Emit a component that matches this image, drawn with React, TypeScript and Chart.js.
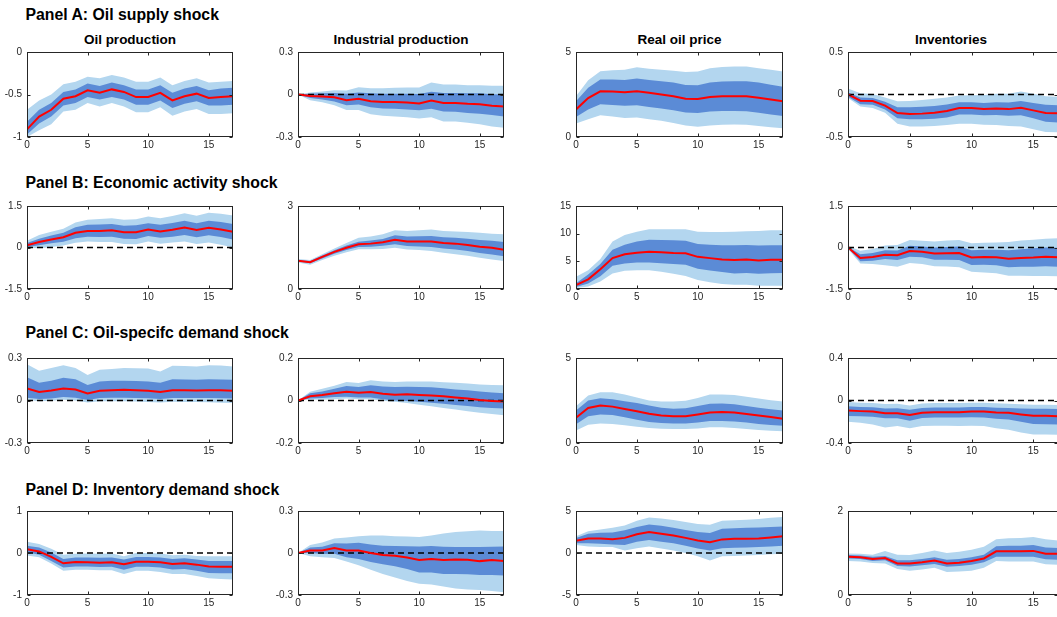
import React, { useEffect, useRef } from "react";
import { Chart, registerables } from "chart.js";
Chart.register(...registerables);

// ---------- data ----------
const horizons = [0, 1, 2, 3, 4, 5, 6, 7, 8, 9, 10, 11, 12, 13, 14, 15, 16, 17];
const xTickValues = [0, 5, 10, 15];
const variableTitles = ["Oil production", "Industrial production", "Real oil price", "Inventories"];
const panelHeaders = [
  "Panel A: Oil supply shock",
  "Panel B: Economic activity shock",
  "Panel C: Oil-specifc demand shock",
  "Panel D: Inventory demand shock",
];

// Panel A: oil supply shock
const aOilMed = [-0.91, -0.76, -0.68, -0.55, -0.52, -0.45, -0.48, -0.44, -0.47, -0.53, -0.53, -0.48, -0.57, -0.52, -0.49, -0.54, -0.53, -0.52];
const aOilInHi = [-0.82, -0.68, -0.6, -0.47, -0.44, -0.37, -0.4, -0.36, -0.39, -0.44, -0.44, -0.39, -0.48, -0.43, -0.4, -0.45, -0.43, -0.42];
const aOilInLo = [-0.97, -0.84, -0.76, -0.63, -0.6, -0.53, -0.56, -0.53, -0.56, -0.62, -0.62, -0.57, -0.66, -0.61, -0.58, -0.63, -0.63, -0.62];
const aOilOutHi = [-0.68, -0.57, -0.5, -0.38, -0.35, -0.29, -0.31, -0.27, -0.3, -0.35, -0.35, -0.3, -0.39, -0.34, -0.31, -0.36, -0.35, -0.34];
const aOilOutLo = [-1.0, -0.92, -0.85, -0.7, -0.68, -0.6, -0.64, -0.6, -0.64, -0.71, -0.71, -0.65, -0.75, -0.7, -0.67, -0.73, -0.73, -0.72];

const aIpMed = [0, -0.01, -0.014, -0.02, -0.04, -0.03, -0.048, -0.053, -0.053, -0.057, -0.064, -0.043, -0.06, -0.06, -0.066, -0.069, -0.08, -0.085];
const aIpInHi = [0, 0.005, 0.008, 0.01, 0.005, 0.015, 0.008, 0.005, 0.006, 0.005, 0.003, 0.02, 0.01, 0.01, 0.008, 0.008, 0.002, 0];
const aIpInLo = [0, -0.025, -0.035, -0.05, -0.075, -0.07, -0.09, -0.098, -0.1, -0.105, -0.112, -0.1, -0.12, -0.122, -0.13, -0.135, -0.145, -0.155];
const aIpOutHi = [0, 0.015, 0.022, 0.03, 0.028, 0.052, 0.045, 0.045, 0.048, 0.05, 0.05, 0.085, 0.07, 0.07, 0.065, 0.066, 0.062, 0.062];
const aIpOutLo = [0, -0.04, -0.055, -0.075, -0.11, -0.11, -0.14, -0.15, -0.155, -0.16, -0.17, -0.16, -0.19, -0.19, -0.2, -0.21, -0.225, -0.235];

const aPriceMed = [1.62, 2.29, 2.69, 2.67, 2.63, 2.69, 2.6, 2.5, 2.4, 2.25, 2.23, 2.35, 2.39, 2.39, 2.39, 2.31, 2.21, 2.1];
const aPriceInHi = [2.1, 2.9, 3.38, 3.38, 3.36, 3.44, 3.36, 3.28, 3.2, 3.06, 3.05, 3.2, 3.26, 3.28, 3.28, 3.2, 3.08, 2.96];
const aPriceInLo = [1.18, 1.62, 1.92, 1.88, 1.84, 1.87, 1.77, 1.67, 1.57, 1.44, 1.41, 1.5, 1.53, 1.53, 1.52, 1.43, 1.33, 1.24];
const aPriceOutHi = [2.39, 3.34, 3.87, 3.93, 3.95, 4.1, 4.02, 3.95, 3.9, 3.82, 3.86, 4.05, 4.12, 4.15, 4.15, 4.05, 3.95, 3.86];
const aPriceOutLo = [0.8, 1.05, 1.28, 1.2, 1.12, 1.15, 1.05, 0.95, 0.83, 0.67, 0.61, 0.68, 0.72, 0.73, 0.72, 0.65, 0.58, 0.52];

const aInvMed = [0, -0.073, -0.076, -0.13, -0.218, -0.229, -0.225, -0.214, -0.195, -0.16, -0.16, -0.17, -0.164, -0.172, -0.156, -0.187, -0.218, -0.22];
const aInvInHi = [0.025, -0.035, -0.04, -0.085, -0.15, -0.15, -0.145, -0.135, -0.118, -0.09, -0.09, -0.1, -0.09, -0.095, -0.075, -0.1, -0.12, -0.125];
const aInvInLo = [-0.025, -0.115, -0.12, -0.175, -0.28, -0.29, -0.29, -0.285, -0.27, -0.235, -0.235, -0.245, -0.24, -0.25, -0.245, -0.28, -0.32, -0.33];
const aInvOutHi = [0.07, 0.015, 0.005, -0.035, -0.08, -0.075, -0.065, -0.05, -0.035, -0.012, -0.01, -0.005, 0.01, 0.01, 0.035, 0.01, -0.02, -0.025];
const aInvOutLo = [-0.04, -0.14, -0.16, -0.215, -0.345, -0.375, -0.375, -0.37, -0.36, -0.345, -0.345, -0.355, -0.36, -0.37, -0.375, -0.41, -0.44, -0.445];

// Panel B: economic activity shock
const bOilMed = [0.08, 0.2, 0.29, 0.37, 0.53, 0.6, 0.6, 0.62, 0.55, 0.55, 0.65, 0.58, 0.64, 0.72, 0.63, 0.71, 0.65, 0.57];
const bOilInHi = [0.16, 0.32, 0.43, 0.53, 0.73, 0.82, 0.83, 0.85, 0.79, 0.8, 0.88, 0.82, 0.89, 0.97, 0.88, 0.97, 0.92, 0.85];
const bOilInLo = [0.02, 0.08, 0.15, 0.21, 0.33, 0.39, 0.38, 0.39, 0.32, 0.31, 0.42, 0.35, 0.39, 0.45, 0.37, 0.44, 0.38, 0.29];
const bOilOutHi = [0.24, 0.45, 0.57, 0.68, 0.9, 1.0, 1.03, 1.06, 1.0, 1.02, 1.12, 1.06, 1.14, 1.24, 1.15, 1.26, 1.22, 1.16];
const bOilOutLo = [0.0, -0.03, 0.02, 0.07, 0.17, 0.22, 0.2, 0.2, 0.13, 0.12, 0.22, 0.14, 0.18, 0.22, 0.13, 0.18, 0.1, 0.0];

const bIpMed = [1.02, 0.97, 1.16, 1.34, 1.49, 1.62, 1.64, 1.69, 1.78, 1.72, 1.72, 1.72, 1.66, 1.64, 1.59, 1.53, 1.49, 1.42];
const bIpInHi = [1.05, 1.01, 1.21, 1.4, 1.57, 1.71, 1.75, 1.81, 1.94, 1.9, 1.91, 1.92, 1.87, 1.85, 1.82, 1.77, 1.74, 1.7];
const bIpInLo = [0.99, 0.93, 1.1, 1.27, 1.41, 1.52, 1.53, 1.56, 1.62, 1.55, 1.54, 1.52, 1.46, 1.43, 1.37, 1.3, 1.25, 1.18];
const bIpOutHi = [1.08, 1.05, 1.26, 1.46, 1.66, 1.85, 1.9, 1.98, 2.12, 2.1, 2.12, 2.15, 2.1, 2.08, 2.06, 2.03, 2.0, 1.98];
const bIpOutLo = [0.96, 0.88, 1.05, 1.2, 1.33, 1.44, 1.44, 1.45, 1.49, 1.43, 1.41, 1.37, 1.31, 1.26, 1.2, 1.13, 1.07, 1.01];

const bPriceMed = [0.7, 1.74, 3.55, 5.58, 6.28, 6.57, 6.74, 6.63, 6.51, 6.45, 5.81, 5.58, 5.35, 5.23, 5.35, 5.17, 5.29, 5.29];
const bPriceInHi = [1.05, 2.6, 4.5, 7.1, 8.0, 8.6, 8.9, 8.85, 8.8, 8.7, 8.14, 8.0, 7.9, 7.9, 7.95, 7.85, 7.9, 7.9];
const bPriceInLo = [0.35, 1.0, 2.3, 4.2, 4.6, 4.8, 4.8, 4.65, 4.5, 4.36, 3.66, 3.35, 3.05, 2.8, 2.9, 2.75, 2.85, 2.9];
const bPriceOutHi = [2.2, 3.4, 5.4, 8.6, 9.77, 10.35, 10.8, 10.8, 10.8, 10.8, 10.35, 10.3, 10.3, 10.35, 10.45, 10.47, 10.6, 10.64];
const bPriceOutLo = [0.17, 0.47, 1.34, 2.8, 3.3, 3.37, 3.37, 3.1, 2.75, 2.33, 1.63, 1.2, 0.9, 0.76, 0.76, 0.58, 0.6, 0.58];

const bInvMed = [0, -0.38, -0.34, -0.26, -0.28, -0.13, -0.15, -0.22, -0.21, -0.2, -0.36, -0.34, -0.35, -0.41, -0.38, -0.36, -0.33, -0.35];
const bInvInHi = [0.02, -0.24, -0.2, -0.1, -0.11, 0.06, 0.04, 0.0, 0.02, 0.04, -0.1, -0.08, -0.08, -0.1, -0.06, -0.03, 0.0, -0.01];
const bInvInLo = [-0.02, -0.5, -0.48, -0.42, -0.45, -0.33, -0.35, -0.44, -0.44, -0.45, -0.63, -0.62, -0.64, -0.71, -0.7, -0.7, -0.68, -0.7];
const bInvOutHi = [0.05, -0.12, -0.05, 0.07, 0.09, 0.27, 0.24, 0.22, 0.25, 0.27, 0.15, 0.17, 0.18, 0.2, 0.25, 0.28, 0.32, 0.33];
const bInvOutLo = [-0.05, -0.58, -0.6, -0.64, -0.7, -0.56, -0.6, -0.68, -0.69, -0.71, -0.88, -0.9, -0.93, -1.02, -1.02, -1.03, -1.03, -1.04];

// Panel C: oil-specific demand shock
const cOilMed = [0.085, 0.06, 0.071, 0.085, 0.078, 0.05, 0.069, 0.073, 0.075, 0.073, 0.069, 0.06, 0.073, 0.073, 0.071, 0.073, 0.073, 0.069];
const cOilInHi = [0.165, 0.126, 0.14, 0.16, 0.15, 0.11, 0.135, 0.14, 0.14, 0.138, 0.135, 0.125, 0.15, 0.148, 0.146, 0.15, 0.148, 0.146];
const cOilInLo = [0.02, 0.01, 0.015, 0.025, 0.02, 0.004, 0.018, 0.02, 0.02, 0.018, 0.016, 0.01, 0.018, 0.018, 0.017, 0.018, 0.016, 0.014];
const cOilOutHi = [0.256, 0.21, 0.23, 0.249, 0.23, 0.18, 0.217, 0.222, 0.229, 0.228, 0.226, 0.205, 0.245, 0.243, 0.24, 0.249, 0.247, 0.24];
const cOilOutLo = [0.005, -0.005, -0.002, 0.005, 0.0, -0.014, -0.006, -0.005, -0.005, -0.007, -0.01, -0.014, -0.008, -0.01, -0.011, -0.012, -0.015, -0.018];

const cIpMed = [0, 0.02, 0.026, 0.034, 0.041, 0.037, 0.04, 0.032, 0.027, 0.029, 0.026, 0.024, 0.02, 0.014, 0.009, 0.002, -0.002, -0.005];
const cIpInHi = [0, 0.034, 0.042, 0.055, 0.068, 0.064, 0.072, 0.066, 0.063, 0.065, 0.064, 0.062, 0.058, 0.052, 0.048, 0.042, 0.038, 0.034];
const cIpInLo = [0, 0.01, 0.012, 0.016, 0.018, 0.014, 0.014, 0.006, 0.0, -0.002, -0.006, -0.01, -0.015, -0.021, -0.026, -0.032, -0.035, -0.038];
const cIpOutHi = [0, 0.041, 0.055, 0.07, 0.087, 0.082, 0.095, 0.09, 0.087, 0.09, 0.09, 0.09, 0.086, 0.084, 0.08, 0.075, 0.073, 0.072];
const cIpOutLo = [0, 0.005, 0.004, 0.006, 0.01, 0.006, 0.006, -0.001, -0.006, -0.012, -0.02, -0.027, -0.035, -0.042, -0.05, -0.058, -0.064, -0.069];

const cPriceMed = [1.49, 2.06, 2.21, 2.14, 2.0, 1.87, 1.72, 1.62, 1.58, 1.58, 1.68, 1.79, 1.83, 1.79, 1.7, 1.62, 1.53, 1.43];
const cPriceInHi = [1.91, 2.5, 2.63, 2.58, 2.46, 2.35, 2.2, 2.08, 2.02, 2.05, 2.17, 2.31, 2.33, 2.28, 2.18, 2.08, 1.99, 1.91];
const cPriceInLo = [1.11, 1.58, 1.68, 1.64, 1.52, 1.37, 1.24, 1.18, 1.15, 1.14, 1.2, 1.3, 1.3, 1.26, 1.2, 1.12, 1.06, 1.01];
const cPriceOutHi = [2.16, 2.79, 2.98, 2.98, 2.85, 2.67, 2.5, 2.44, 2.44, 2.48, 2.65, 2.86, 2.86, 2.82, 2.72, 2.62, 2.52, 2.44];
const cPriceOutLo = [0.73, 1.07, 1.15, 1.12, 1.04, 0.95, 0.88, 0.84, 0.82, 0.82, 0.86, 0.92, 0.92, 0.88, 0.82, 0.77, 0.72, 0.69];

const cInvMed = [-0.095, -0.1, -0.104, -0.119, -0.119, -0.137, -0.116, -0.11, -0.11, -0.11, -0.104, -0.104, -0.113, -0.116, -0.131, -0.144, -0.144, -0.148];
const cInvInHi = [-0.055, -0.06, -0.064, -0.075, -0.074, -0.088, -0.07, -0.066, -0.066, -0.066, -0.062, -0.062, -0.068, -0.07, -0.075, -0.078, -0.078, -0.08];
const cInvInLo = [-0.145, -0.148, -0.152, -0.168, -0.168, -0.19, -0.165, -0.16, -0.16, -0.16, -0.158, -0.16, -0.172, -0.178, -0.2, -0.222, -0.224, -0.226];
const cInvOutHi = [-0.015, -0.02, -0.024, -0.034, -0.03, -0.046, -0.028, -0.024, -0.024, -0.024, -0.022, -0.022, -0.026, -0.03, -0.036, -0.04, -0.04, -0.042];
const cInvOutLo = [-0.2, -0.21, -0.225, -0.255, -0.24, -0.26, -0.24, -0.238, -0.238, -0.24, -0.238, -0.24, -0.26, -0.275, -0.3, -0.32, -0.32, -0.322];

// Panel D: inventory demand shock
const dOilMed = [0.092, 0.038, -0.092, -0.246, -0.215, -0.223, -0.23, -0.223, -0.27, -0.208, -0.208, -0.223, -0.26, -0.246, -0.277, -0.323, -0.33, -0.33];
const dOilInHi = [0.17, 0.13, 0.01, -0.14, -0.11, -0.11, -0.115, -0.11, -0.155, -0.095, -0.095, -0.105, -0.14, -0.125, -0.155, -0.19, -0.19, -0.19];
const dOilInLo = [0.015, -0.04, -0.19, -0.346, -0.32, -0.323, -0.335, -0.33, -0.4, -0.325, -0.325, -0.345, -0.39, -0.38, -0.42, -0.475, -0.48, -0.48];
const dOilOutHi = [0.27, 0.215, 0.1, -0.04, -0.015, -0.01, -0.015, -0.01, -0.077, 0.0, 0.0, -0.01, -0.055, -0.04, -0.07, -0.075, -0.077, -0.077];
const dOilOutLo = [-0.06, -0.1, -0.25, -0.42, -0.4, -0.4, -0.41, -0.41, -0.5, -0.42, -0.42, -0.45, -0.5, -0.5, -0.55, -0.6, -0.62, -0.63];

const dIpMed = [0, 0.018, 0.018, 0.035, 0.018, 0.018, 0, -0.014, -0.02, -0.032, -0.05, -0.042, -0.05, -0.046, -0.048, -0.058, -0.05, -0.058];
const dIpInHi = [0, 0.04, 0.045, 0.07, 0.068, 0.074, 0.06, 0.052, 0.05, 0.048, 0.046, 0.05, 0.045, 0.042, 0.043, 0.042, 0.045, 0.046];
const dIpInLo = [0, 0.0, -0.008, -0.005, -0.03, -0.042, -0.065, -0.08, -0.095, -0.115, -0.14, -0.14, -0.15, -0.15, -0.152, -0.158, -0.158, -0.16];
const dIpOutHi = [0, 0.058, 0.075, 0.104, 0.11, 0.12, 0.125, 0.125, 0.12, 0.118, 0.115, 0.125, 0.14, 0.15, 0.155, 0.16, 0.158, 0.157];
const dIpOutLo = [0, -0.023, -0.03, -0.035, -0.06, -0.088, -0.12, -0.15, -0.175, -0.2, -0.22, -0.225, -0.24, -0.254, -0.26, -0.265, -0.272, -0.28];

const dPriceMed = [1.46, 1.73, 1.73, 1.65, 1.8, 2.23, 2.5, 2.3, 2.08, 1.8, 1.5, 1.27, 1.62, 1.69, 1.69, 1.73, 1.85, 2.0];
const dPriceInHi = [1.8, 2.3, 2.4, 2.45, 2.7, 3.1, 3.38, 3.25, 3.0, 2.75, 2.5, 2.38, 2.88, 2.95, 3.0, 3.05, 3.1, 3.15];
const dPriceInLo = [1.15, 1.15, 1.1, 1.0, 0.96, 1.35, 1.54, 1.35, 1.15, 0.85, 0.55, 0.31, 0.58, 0.62, 0.65, 0.7, 0.78, 0.85];
const dPriceOutHi = [2.0, 2.6, 2.8, 3.0, 3.27, 3.85, 4.23, 4.1, 3.92, 3.7, 3.46, 3.35, 3.85, 3.9, 3.95, 4.05, 4.2, 4.3];
const dPriceOutLo = [0.96, 0.77, 0.72, 0.7, 0.31, 0.58, 0.77, 0.55, 0.31, 0.0, -0.38, -0.88, -0.38, -0.35, -0.3, -0.25, -0.15, -0.08];

const dInvMed = [0.91, 0.9, 0.86, 0.88, 0.75, 0.75, 0.78, 0.82, 0.75, 0.77, 0.81, 0.87, 1.04, 1.04, 1.04, 1.05, 0.98, 0.98];
const dInvInHi = [0.95, 0.94, 0.91, 0.93, 0.83, 0.83, 0.86, 0.9, 0.84, 0.86, 0.9, 0.96, 1.16, 1.17, 1.17, 1.19, 1.13, 1.12];
const dInvInLo = [0.87, 0.86, 0.81, 0.83, 0.69, 0.68, 0.71, 0.74, 0.67, 0.69, 0.72, 0.78, 0.91, 0.91, 0.91, 0.91, 0.85, 0.84];
const dInvOutHi = [0.99, 0.98, 0.96, 1.05, 0.96, 0.95, 1.0, 1.06, 1.0, 1.03, 1.08, 1.15, 1.33, 1.35, 1.36, 1.38, 1.33, 1.3];
const dInvOutLo = [0.81, 0.8, 0.76, 0.75, 0.62, 0.58, 0.61, 0.65, 0.55, 0.56, 0.58, 0.65, 0.81, 0.8, 0.8, 0.8, 0.73, 0.72];

// y-axis ranges and tick labels per panel
const aOilY = [-1, -0.5, 0];
const aIpY = [-0.3, 0, 0.3];
const aPriceY = [0, 5];
const aInvY = [-0.5, 0, 0.5];
const bOilY = [-1.5, 0, 1.5];
const bIpY = [0, 3];
const bPriceY = [0, 5, 10, 15];
const bInvY = [-1.5, 0, 1.5];
const cOilY = [-0.3, 0, 0.3];
const cIpY = [-0.2, 0, 0.2];
const cPriceY = [0, 5];
const cInvY = [-0.4, 0, 0.4];
const dOilY = [-1, 0, 1];
const dIpY = [-0.3, 0, 0.3];
const dPriceY = [-5, 0, 5];
const dInvY = [0, 2];

type Spec = { med: number[]; inLo: number[]; inHi: number[]; outLo: number[]; outHi: number[]; yTicks: number[] };

const grid: Spec[][] = [
  [
    { med: aOilMed, inLo: aOilInLo, inHi: aOilInHi, outLo: aOilOutLo, outHi: aOilOutHi, yTicks: aOilY },
    { med: aIpMed, inLo: aIpInLo, inHi: aIpInHi, outLo: aIpOutLo, outHi: aIpOutHi, yTicks: aIpY },
    { med: aPriceMed, inLo: aPriceInLo, inHi: aPriceInHi, outLo: aPriceOutLo, outHi: aPriceOutHi, yTicks: aPriceY },
    { med: aInvMed, inLo: aInvInLo, inHi: aInvInHi, outLo: aInvOutLo, outHi: aInvOutHi, yTicks: aInvY },
  ],
  [
    { med: bOilMed, inLo: bOilInLo, inHi: bOilInHi, outLo: bOilOutLo, outHi: bOilOutHi, yTicks: bOilY },
    { med: bIpMed, inLo: bIpInLo, inHi: bIpInHi, outLo: bIpOutLo, outHi: bIpOutHi, yTicks: bIpY },
    { med: bPriceMed, inLo: bPriceInLo, inHi: bPriceInHi, outLo: bPriceOutLo, outHi: bPriceOutHi, yTicks: bPriceY },
    { med: bInvMed, inLo: bInvInLo, inHi: bInvInHi, outLo: bInvOutLo, outHi: bInvOutHi, yTicks: bInvY },
  ],
  [
    { med: cOilMed, inLo: cOilInLo, inHi: cOilInHi, outLo: cOilOutLo, outHi: cOilOutHi, yTicks: cOilY },
    { med: cIpMed, inLo: cIpInLo, inHi: cIpInHi, outLo: cIpOutLo, outHi: cIpOutHi, yTicks: cIpY },
    { med: cPriceMed, inLo: cPriceInLo, inHi: cPriceInHi, outLo: cPriceOutLo, outHi: cPriceOutHi, yTicks: cPriceY },
    { med: cInvMed, inLo: cInvInLo, inHi: cInvInHi, outLo: cInvOutLo, outHi: cInvOutHi, yTicks: cInvY },
  ],
  [
    { med: dOilMed, inLo: dOilInLo, inHi: dOilInHi, outLo: dOilOutLo, outHi: dOilOutHi, yTicks: dOilY },
    { med: dIpMed, inLo: dIpInLo, inHi: dIpInHi, outLo: dIpOutLo, outHi: dIpOutHi, yTicks: dIpY },
    { med: dPriceMed, inLo: dPriceInLo, inHi: dPriceInHi, outLo: dPriceOutLo, outHi: dPriceOutHi, yTicks: dPriceY },
    { med: dInvMed, inLo: dInvInLo, inHi: dInvInHi, outLo: dInvOutLo, outHi: dInvOutHi, yTicks: dInvY },
  ],
];

// ---------- layout ----------
const COL_LEFT = [27, 298, 576, 848];
const COL_W = [206, 206, 207, 210];
const ROW_TOP = [49, 203, 355, 508];
const ROW_H = [88, 86, 88, 87];
const HEADER_TOP = [7.3, 175.1, 325.3, 481.6];
const YW = 34;
const PT = 8;
const PR = 6;
const XH = 16;

const FONT = "'Liberation Sans', Arial, Helvetica, sans-serif";
const AXIS_COLOR = "#262626";
const LIGHT = "#b3d6ef";
const DARK = "#5b8bd6";
const RED = "#ff0000";

const boxPlugin = {
  id: "matlabBox",
  afterDatasetsDraw(chart: any) {
    const { ctx, chartArea: a, scales } = chart;
    const l = Math.round(a.left) + 0.5;
    const r = Math.round(a.right) - 0.5;
    const t = Math.round(a.top) + 0.5;
    const b = Math.round(a.bottom) - 0.5;
    const L = 3;
    ctx.save();
    ctx.strokeStyle = AXIS_COLOR;
    ctx.lineWidth = 1;
    ctx.setLineDash([]);
    ctx.strokeRect(l, t, r - l, b - t);
    ctx.beginPath();
    scales.x.ticks.forEach((tk: any) => {
      const x = Math.round(scales.x.getPixelForValue(tk.value)) + 0.5;
      ctx.moveTo(x, b);
      ctx.lineTo(x, b - L);
      ctx.moveTo(x, t);
      ctx.lineTo(x, t + L);
    });
    scales.y.ticks.forEach((tk: any) => {
      const y = Math.round(scales.y.getPixelForValue(tk.value)) + 0.5;
      ctx.moveTo(l, y);
      ctx.lineTo(l + L, y);
      ctx.moveTo(r, y);
      ctx.lineTo(r - L, y);
    });
    ctx.stroke();
    ctx.restore();
  },
};

function toPts(arr: number[]) {
  return horizons.map((h, i) => ({ x: h, y: arr[i] }));
}

function Panel({ spec, left, top, w, h }: { spec: Spec; left: number; top: number; w: number; h: number }) {
  const ref = useRef<HTMLCanvasElement>(null);
  const W = YW + w + PR;
  const H = PT + h + XH;
  useEffect(() => {
    const yMin = spec.yTicks[0];
    const yMax = spec.yTicks[spec.yTicks.length - 1];
    const band = { pointRadius: 0, borderWidth: 0, borderColor: "rgba(0,0,0,0)", tension: 0 };
    const chart = new Chart(ref.current!, {
      type: "line",
      data: {
        datasets: [
          { label: "median", data: toPts(spec.med), borderColor: RED, borderWidth: 2, pointRadius: 0, fill: false, order: 0, tension: 0 },
          { label: "zero", data: toPts(horizons.map(() => 0)), borderColor: "#000", borderWidth: 1.5, borderDash: [6, 4], pointRadius: 0, fill: false, order: 1 },
          { label: "inLo", data: toPts(spec.inLo), ...band, fill: false, order: 3 },
          { label: "inHi", data: toPts(spec.inHi), ...band, fill: 2, backgroundColor: DARK, order: 2 },
          { label: "outLo", data: toPts(spec.outLo), ...band, fill: false, order: 5 },
          { label: "outHi", data: toPts(spec.outHi), ...band, fill: 4, backgroundColor: LIGHT, order: 4 },
        ] as any,
      },
      options: {
        animation: false,
        responsive: false,
        devicePixelRatio: 1,
        layout: { padding: { top: PT, right: PR, left: 0, bottom: 0 } },
        plugins: { legend: { display: false }, tooltip: { enabled: false }, title: { display: false } },
        scales: {
          x: {
            type: "linear",
            min: 0,
            max: 17,
            grid: { display: false, drawTicks: false },
            border: { display: false },
            ticks: { padding: 2, color: AXIS_COLOR, font: { family: FONT, size: 10 }, maxRotation: 0, autoSkip: false },
            afterBuildTicks: (axis: any) => {
              axis.ticks = xTickValues.map((v) => ({ value: v }));
            },
            afterFit: (axis: any) => {
              axis.height = XH;
            },
          },
          y: {
            type: "linear",
            min: yMin,
            max: yMax,
            grid: { display: false, drawTicks: false },
            border: { display: false },
            ticks: { padding: 5, color: AXIS_COLOR, font: { family: FONT, size: 10 }, autoSkip: false, callback: (v: any) => String(v) },
            afterBuildTicks: (axis: any) => {
              axis.ticks = spec.yTicks.map((v) => ({ value: v }));
            },
            afterFit: (axis: any) => {
              axis.width = YW;
            },
          },
        },
      } as any,
      plugins: [boxPlugin],
    });
    return () => chart.destroy();
  }, [spec]);
  return (
    <canvas
      ref={ref}
      width={W}
      height={H}
      style={{ position: "absolute", left: left - YW, top: top - PT, width: W, height: H }}
    />
  );
}

export default function App() {
  return (
    <div style={{ position: "fixed", left: 0, top: 0, width: 1057, height: 617, background: "#fff", overflow: "hidden", fontFamily: FONT }}>
      {panelHeaders.map((t, r) => (
        <div
          key={"h" + r}
          style={{ position: "absolute", left: 25.5, top: HEADER_TOP[r], fontSize: 15.8, lineHeight: "15.8px", fontWeight: "bold", color: "#000", whiteSpace: "nowrap" }}
        >
          {t}
        </div>
      ))}
      {variableTitles.map((t, c) => (
        <div
          key={"t" + c}
          style={{ position: "absolute", left: COL_LEFT[c], width: c === 3 ? 206 : COL_W[c], top: 32.9, textAlign: "center", fontSize: 13.5, lineHeight: "13.5px", fontWeight: "bold", color: "#000", whiteSpace: "nowrap" }}
        >
          {t}
        </div>
      ))}
      {grid.map((row, r) =>
        row.map((spec, c) => (
          <Panel key={r + "-" + c} spec={spec} left={COL_LEFT[c]} top={ROW_TOP[r]} w={COL_W[c]} h={ROW_H[r]} />
        ))
      )}
    </div>
  );
}
